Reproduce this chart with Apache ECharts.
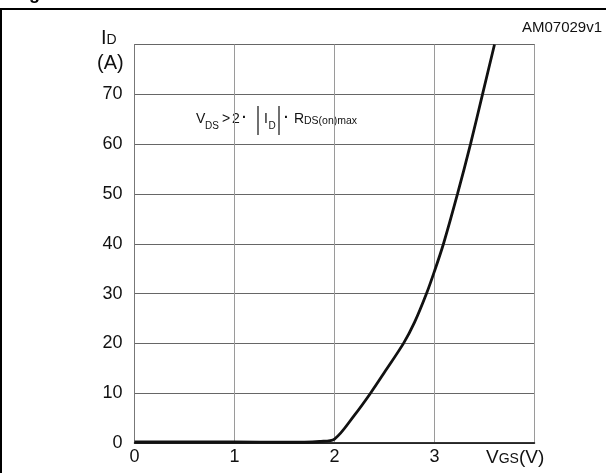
<!DOCTYPE html>
<html>
<head>
<meta charset="utf-8">
<script src="https://cdn.jsdelivr.net/npm/echarts@6/dist/echarts.min.js"></script>
<style>
  html, body { margin: 0; padding: 0; background: #fff; }
  #chart { width: 606px; height: 473px; }
</style>
</head>
<body>
<div id="chart"></div>
<script>
// Transfer characteristic: drain current vs gate-source voltage
const vgs = [0, 0.5, 1.0, 1.5, 1.7, 1.85, 2.0, 2.2, 2.36, 2.5, 2.69, 2.8, 2.92, 3.0, 3.09, 3.23, 3.36, 3.48, 3.6];
const id  = [0.2, 0.2, 0.2, 0.15, 0.15, 0.3, 0.8, 5.6, 10, 14.2, 20, 24.2, 30, 34.5, 40, 50, 60, 70, 80];
const xTicks = ['0', '1', '2', '3'];
const yTicks = ['0', '10', '20', '30', '40', '50', '60', '70'];

const FONT = "'Liberation Sans', Arial, Helvetica, sans-serif";
const chart = echarts.init(document.getElementById('chart'), null, { renderer: 'canvas' });

const points = vgs.map((v, i) => [v, id[i]]);

chart.setOption({
  animation: false,
  backgroundColor: '#fff',
  grid: {
    left: 134.5, right: 71.5, top: 44.5, bottom: 30,
    show: true, borderColor: '#444', borderWidth: 1
  },
  xAxis: {
    type: 'value', min: 0, max: 4, interval: 1,
    axisLine: { show: true, lineStyle: { color: '#111', width: 1.5 } },
    axisTick: { show: false },
    splitLine: { show: true, lineStyle: { color: '#9a9a9a', width: 1 } },
    axisLabel: {
      margin: 5, fontSize: 18, color: '#111', fontFamily: FONT,
      formatter: v => xTicks[Math.round(v)] !== undefined ? xTicks[Math.round(v)] : ''
    }
  },
  yAxis: {
    type: 'value', min: 0, max: 80, interval: 10,
    axisLine: { show: true, lineStyle: { color: '#777', width: 1 } },
    axisTick: { show: false },
    splitLine: { show: true, lineStyle: { color: '#666', width: 1 } },
    axisLabel: {
      margin: 12, fontSize: 18, color: '#111', fontFamily: FONT,
      formatter: v => yTicks[Math.round(v / 10)] !== undefined ? yTicks[Math.round(v / 10)] : ''
    }
  },
  series: [{
    type: 'line',
    data: points,
    smooth: 0.3,
    symbol: 'none',
    clip: true,
    lineStyle: { color: '#111', width: 2.8 }
  }],
  graphic: [
    // outer figure frame
    { type: 'line', shape: { x1: 0, y1: 9, x2: 606, y2: 9 }, style: { stroke: '#000', lineWidth: 2 } },
    { type: 'line', shape: { x1: 1, y1: 9, x2: 1, y2: 473 }, style: { stroke: '#000', lineWidth: 2 } },
    // heading fragment above the frame
    { type: 'text', left: 29, top: -15, style: { text: 'g', font: 'bold 18px ' + FONT, fill: '#000' } },
    // figure code
    { type: 'text', right: 4, top: 20, style: { text: 'AM07029v1', font: '15px ' + FONT, fill: '#111' } },
    // y axis title
    { type: 'text', left: 101, top: 28, style: {
        text: '{b|I}{s|D}', fill: '#111',
        rich: { b: { fontSize: 20, fontFamily: FONT }, s: { fontSize: 14, fontFamily: FONT, padding: [4, 0, 0, 0] } }
    } },
    { type: 'text', left: 97, top: 53, style: { text: '(A)', font: '20px ' + FONT, fill: '#111' } },
    // x axis title
    { type: 'text', left: 486, top: 448, style: {
        text: '{b|V}{s|GS}{b|(V)}', fill: '#111',
        rich: { b: { fontSize: 19, fontFamily: FONT }, s: { fontSize: 14, fontFamily: FONT, padding: [4, 0, 0, 0] } }
    } },
    // condition note
    { type: 'text', left: 196, top: 112, style: { text: 'V', font: '14px ' + FONT, fill: '#111' } },
    { type: 'text', left: 205, top: 121, style: { text: 'DS', font: '10px ' + FONT, fill: '#111' } },
    { type: 'text', left: 222, top: 112, style: { text: '>', font: '14px ' + FONT, fill: '#111' } },
    { type: 'text', left: 232, top: 112, style: { text: '2', font: '14px ' + FONT, fill: '#111' } },
    { type: 'text', left: 242, top: 111, style: { text: '·', font: 'bold 14px ' + FONT, fill: '#111' } },
    { type: 'line', shape: { x1: 258, y1: 106, x2: 258, y2: 135 }, style: { stroke: '#111', lineWidth: 1.2 } },
    { type: 'text', left: 264, top: 112, style: { text: 'I', font: '14px ' + FONT, fill: '#111' } },
    { type: 'text', left: 268.5, top: 121, style: { text: 'D', font: '10px ' + FONT, fill: '#111' } },
    { type: 'line', shape: { x1: 279, y1: 106, x2: 279, y2: 135 }, style: { stroke: '#111', lineWidth: 1.2 } },
    { type: 'text', left: 284, top: 111, style: { text: '·', font: 'bold 14px ' + FONT, fill: '#111' } },
    { type: 'text', left: 294, top: 112, style: { text: 'R', font: '14px ' + FONT, fill: '#111' } },
    { type: 'text', left: 304, top: 116, style: { text: 'DS(on)max', font: '10.5px ' + FONT, fill: '#111' } }
  ]
});
</script>
</body>
</html>
